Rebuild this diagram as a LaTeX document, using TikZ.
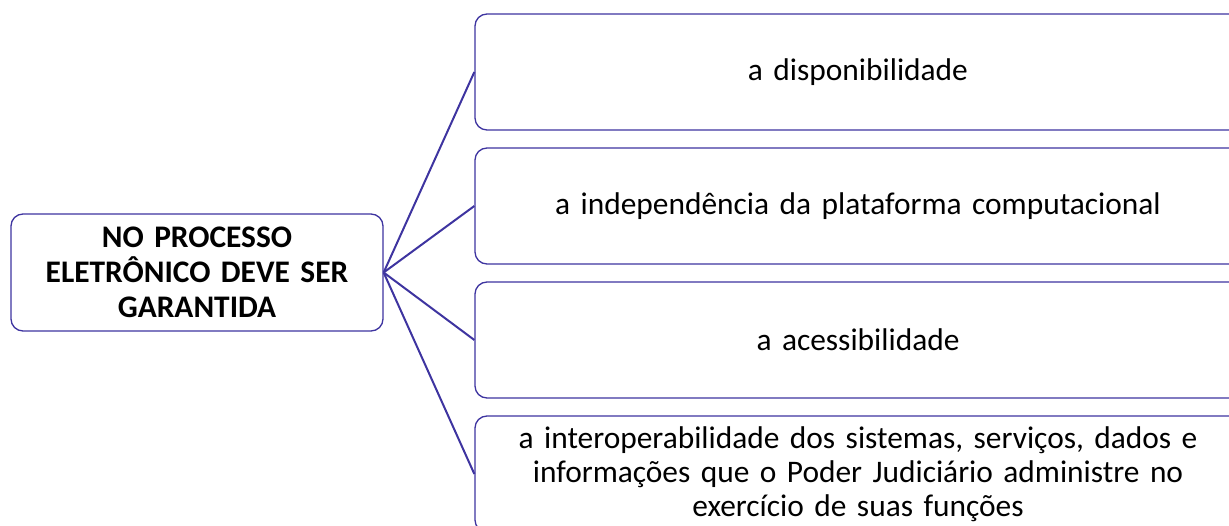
\documentclass[tikz,border=0pt]{standalone}
\usepackage{fontspec}
\setmainfont{Carlito}
\definecolor{edgeblue}{RGB}{62,52,160}
\begin{document}
\begin{tikzpicture}[x=1pt,y=-1pt,
  box/.style={draw=edgeblue,line width=1.3pt,rounded corners=12pt,fill=white,
    align=center,inner sep=0pt,minimum height=116pt},
  leftbox/.style={box,minimum width=372pt,minimum height=117pt,text width=350pt,
    font=\fontsize{31.4}{35}\selectfont\bfseries},
  rightbox/.style={box,minimum width=766pt,text width=740pt,
    font=\fontsize{31.4}{34}\selectfont},
  link/.style={draw=edgeblue,line width=2pt}]
\useasboundingbox (0,0) rectangle (1229,526);
\clip (0,0) rectangle (1229,526);
\node[leftbox] (root) at (197,272.5) {NO PROCESSO\\ELETRÔNICO DEVE SER\\GARANTIDA};
\node[rightbox] (b1) at (858,72) {a disponibilidade};
\node[rightbox] (b2) at (858,206) {a independência da plataforma computacional};
\node[rightbox] (b3) at (858,340) {a acessibilidade};
\node[rightbox] (b4) at (858,474) {a interoperabilidade dos sistemas, serviços, dados e\\informações que o Poder Judiciário administre no\\exercício de suas funções};
\foreach \b in {b1,b2,b3,b4} \draw[link] (root.east) -- (\b.west);
\end{tikzpicture}
\end{document}
